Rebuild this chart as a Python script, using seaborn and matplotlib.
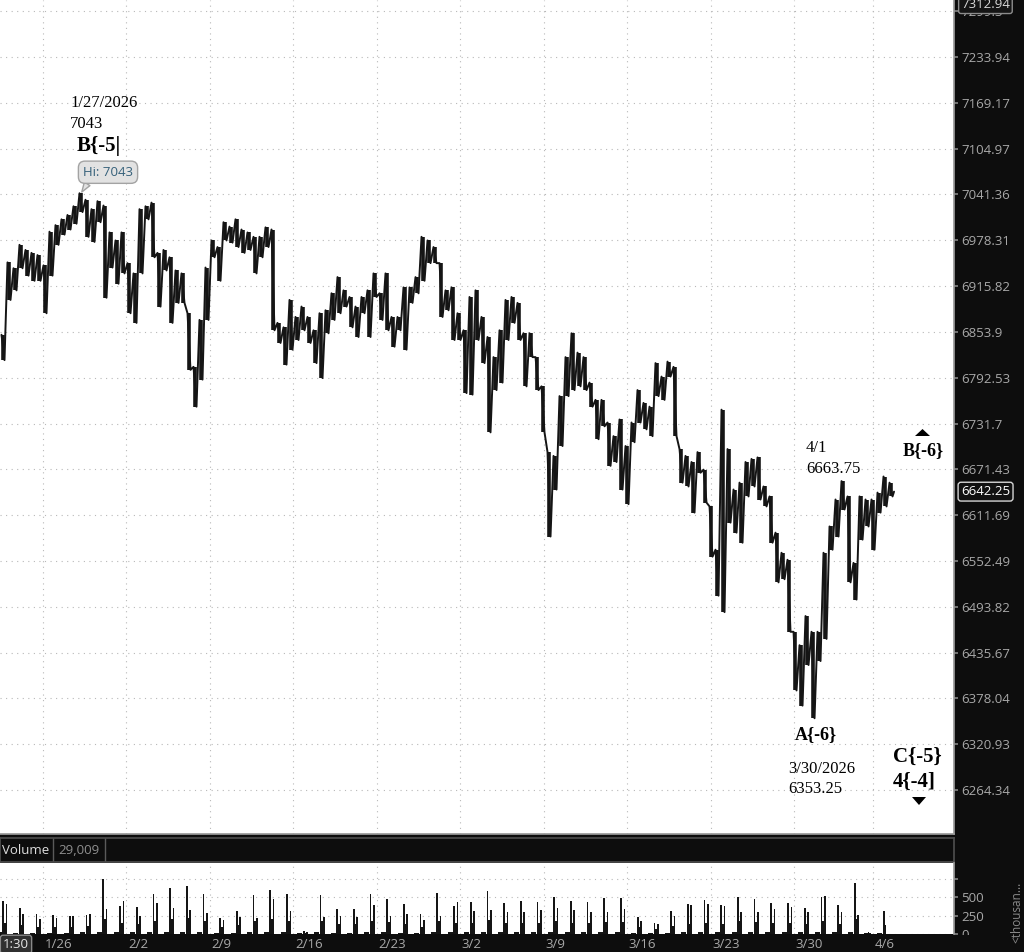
import numpy as np
import matplotlib
matplotlib.use("Agg")
import matplotlib.pyplot as plt
import seaborn as sns
from matplotlib.patches import Polygon
from matplotlib.ticker import FixedLocator, NullLocator, NullFormatter
from matplotlib.transforms import blended_transform_factory

# ---------------- data ----------------
sessions = ["1/21", "1/22", "1/23",
            "1/26", "1/27", "1/28", "1/29", "1/30",
            "2/2", "2/3", "2/4", "2/5", "2/6",
            "2/9", "2/10", "2/11", "2/12", "2/13",
            "2/16", "2/17", "2/18", "2/19", "2/20",
            "2/23", "2/24", "2/25", "2/26", "2/27",
            "3/2", "3/3", "3/4", "3/5", "3/6",
            "3/9", "3/10", "3/11", "3/12", "3/13",
            "3/16", "3/17", "3/18", "3/19", "3/20",
            "3/23", "3/24", "3/25", "3/26", "3/27",
            "3/30", "3/31", "4/1", "4/2", "4/3",
            "4/6"]
session_len = [1.0] * 52 + [0.73, 1.0]   # Good Friday is a short session
week_labels = ["1/26", "2/2", "2/9", "2/16", "2/23", "3/2",
               "3/9", "3/16", "3/23", "3/30", "4/6"]

# high / low of the price line in consecutive time slices
price_high = [6850, 6948, 6940, 6972, 6965, 6961, 6958, 6944, 6990, 6999,
              7007, 7013, 7025, 7043, 7034, 7021, 7032, 7026, 6989, 6978,
              6989, 6947, 6933, 7021, 7025, 7030, 6961, 6965, 6955, 6937,
              6933, 6879, 6807, 6870, 6941, 6978, 6969, 7003, 6997, 7007,
              6993, 6989, 6983, 6983, 6996, 6993, 6866, 6860, 6897, 6874,
              6888, 6874, 6856, 6879, 6883, 6906, 6928, 6910, 6901, 6888,
              6901, 6910, 6933, 6906, 6933, 6874, 6874, 6914, 6914, 6928,
              6983, 6978, 6969, 6947, 6910, 6914, 6879, 6856, 6901, 6910,
              6874, 6847, 6820, 6856, 6897, 6901, 6893, 6852, 6852, 6820,
              6781, 6694, 6689, 6768, 6820, 6852, 6826, 6820, 6786, 6763,
              6763, 6733, 6715, 6737, 6702, 6733, 6776, 6759, 6754, 6812,
              6794, 6814, 6807, 6698, 6689, 6681, 6694, 6671, 6623, 6567,
              6750, 6698, 6645, 6654, 6681, 6685, 6687, 6649, 6636, 6589,
              6563, 6554, 6462, 6445, 6482, 6462, 6462, 6563, 6597, 6632,
              6656, 6636, 6550, 6636, 6632, 6632, 6641, 6662, 6654]
price_low = [6816, 6897, 6910, 6940, 6930, 6923, 6923, 6879, 6930, 6972,
             6986, 6993, 7001, 7017, 6983, 6976, 7003, 6900, 6941, 6919,
             6933, 6879, 6866, 6933, 7007, 6955, 6888, 6937, 6866, 6893,
             6893, 6803, 6754, 6790, 6870, 6955, 6923, 6978, 6975, 6969,
             6961, 6965, 6933, 6955, 6969, 6856, 6839, 6810, 6830, 6843,
             6856, 6839, 6812, 6792, 6852, 6870, 6879, 6888, 6860, 6847,
             6879, 6847, 6901, 6870, 6856, 6834, 6856, 6830, 6893, 6906,
             6923, 6947, 6947, 6874, 6883, 6843, 6843, 6772, 6770, 6843,
             6812, 6720, 6776, 6786, 6843, 6866, 6843, 6781, 6820, 6776,
             6720, 6584, 6645, 6702, 6768, 6776, 6781, 6776, 6754, 6711,
             6728, 6676, 6681, 6645, 6626, 6707, 6733, 6724, 6715, 6768,
             6763, 6794, 6715, 6654, 6649, 6615, 6667, 6628, 6558, 6508,
             6487, 6602, 6589, 6576, 6636, 6649, 6632, 6623, 6576, 6525,
             6529, 6462, 6388, 6369, 6420, 6353.25, 6425, 6453, 6567, 6584,
             6619, 6525, 6503, 6580, 6597, 6567, 6615, 6623, 6636]
last_price = 6642.25
price_t0 = -2.557     # time of first slice (sessions, 0 = 1/26)
price_dt = 0.3593     # slice length (sessions)

price_ticks = [7299.3, 7233.94, 7169.17, 7104.97, 7041.36, 6978.31, 6915.82,
               6853.9, 6792.53, 6731.7, 6671.43, 6611.69, 6552.49, 6493.82,
               6435.67, 6378.04, 6320.93, 6264.34]
price_top = 7312.94

# volume (thousands) per session
vol_night = [25, 20, 20, 20, 20, 25, 30, 25, 25, 30, 30, 30, 25,
             20, 20, 25, 30, 25, 10, 25, 20, 20, 25, 25, 20, 20,
             25, 25, 25, 30, 25, 25, 25, 25, 25, 25, 25, 25, 20,
             15, 20, 25, 25, 25, 25, 25, 25, 25, 25, 30, 25, 30,
             10, 20]
vol_open = [446, 355, 273,
            255, 241, 255, 742, 378,
            364, 537, 619, 651, 537,
            218, 309, 523, 596, 537,
            36, 523, 341, 341, 537,
            469, 410, 264, 560, 378,
            437, 582, 423, 446, 437,
            500, 446, 437, 491, 491,
            228, 150, 309, 410, 455,
            391, 500, 473, 423, 419,
            355, 500, 391, 696, 25,
            309]
vol_mid = [150, 120, 100,
           100, 90, 110, 200, 150,
           130, 180, 200, 220, 180,
           90, 120, 170, 200, 180,
           15, 170, 130, 130, 180,
           160, 140, 100, 180, 150,
           150, 190, 150, 150, 150,
           170, 150, 150, 160, 160,
           90, 70, 110, 140, 150,
           140, 170, 160, 150, 150,
           130, 180, 140, 200, 10,
           120]
vol_close = [400, 264, 209,
             218, 241, 264, 332, 446,
             241, 423, 355, 323, 287,
             196, 228, 218, 469, 309,
             30, 228, 241, 228, 391,
             241, 264, 196, 241, 437,
             309, 319, 300, 300, 330,
             350, 330, 300, 300, 340,
             170, 140, 250, 390, 400,
             380, 300, 300, 340, 370,
             300, 510, 300, 260, 0,
             0]
vol_ticks = [0, 250, 500, 750]
vol_tick_labels = ["0", "250", "500", ""]
vol_last = "29,009"

# ---------------- style / layout ----------------
sns.set_theme(style="white")
plt.rcParams["font.family"] = ["Open Sans", "DejaVu Sans"]

W, H = 1024, 952
BG = "#0d0d0d"
GRID = "#b8b8b8"
LBL = "#a8a8a8"
INK = "#151515"
fig = plt.figure(figsize=(W / 100, H / 100), dpi=100, facecolor=BG)


def fx(px):
    return px / W


def fy(py):
    return 1 - py / H


def rect(x0, y0, x1, y1):
    return [fx(x0), fy(y1), fx(x1) - fx(x0), fy(y0) - fy(y1)]


ax = fig.add_axes(rect(0, 0, 954, 834))
hdr = fig.add_axes(rect(0, 838, 954, 862))
vax = fig.add_axes(rect(0, 863, 954, 934))
bot = fig.add_axes(rect(0, 935, 1024, 952))

starts = np.concatenate([[0.0], np.cumsum(session_len)[:-1]]) - 3
lens = np.array(session_len)
week_pos = [starts[sessions.index(w)] for w in week_labels]
xlim = (price_t0, 54.57)

# ---------------- price panel ----------------
k = np.arange(len(price_high))
t_mid = price_t0 + price_dt * (k + 0.5)
path_t = np.column_stack([price_t0 + price_dt * (k + 0.25),
                          price_t0 + price_dt * (k + 0.75)]).ravel()
path_p = np.column_stack([price_high, price_low]).ravel()
path_t = np.append(path_t, price_t0 + price_dt * len(k))
path_p = np.append(path_p, last_price)

# range of each slice as a short thick bar, joined by the zigzag line
ax.vlines(t_mid, price_low, price_high, color=INK, linewidth=2.6)
sns.lineplot(x=path_t, y=path_p, ax=ax, sort=False, estimator=None,
             color=INK, linewidth=1.4)
ax.set_yscale("log")
ax.set_ylim(6210.5, 7315.3)
ax.set_xlim(*xlim)
ax.yaxis.set_major_locator(FixedLocator(price_ticks))
ax.yaxis.set_minor_locator(NullLocator())
ax.yaxis.set_minor_formatter(NullFormatter())
ax.set_yticklabels([f"{v:g}" for v in price_ticks])
ax.yaxis.tick_right()
ax.tick_params(axis="y", right=True, left=False, length=3, color="#808080",
               labelcolor=LBL, labelsize=9.5, pad=2)
ax.set_xticks(week_pos)
ax.set_xticklabels([])
ax.tick_params(axis="x", length=0)
ax.set_xlabel("")
ax.set_ylabel("")
ax.grid(True, color=GRID, linestyle=(0, (1, 4)), linewidth=0.8)
for s in ["top", "left"]:
    ax.spines[s].set_visible(False)
ax.spines["right"].set_color("#9a9a9a")
ax.spines["bottom"].set_color("#9a9a9a")

# price boxes on the right scale
ax.annotate(f"{last_price:.2f}", xy=(1, last_price),
            xycoords=("axes fraction", "data"), xytext=(7, 0),
            textcoords="offset pixels", ha="left", va="center",
            color="white", fontsize=9.5, annotation_clip=False,
            bbox=dict(boxstyle="round,pad=0.22", fc="#111111", ec="#d5d5d5", lw=1))
ax.annotate(f"{price_top:.2f}", xy=(1, price_top),
            xycoords=("axes fraction", "data"), xytext=(7, -3),
            textcoords="offset pixels", ha="left", va="center",
            color="#d8d8d8", fontsize=9.5, annotation_clip=False,
            bbox=dict(boxstyle="round,pad=0.18", fc="#151515", ec="#8c8c8c", lw=1))

# high bubble
i_hi = int(np.argmax(price_high))
ax.annotate(f"Hi: {max(price_high):g}",
            xy=(t_mid[i_hi], max(price_high)),
            xytext=(27, 21), textcoords="offset pixels",
            ha="center", va="center", fontsize=9.5, color="#35607a",
            bbox=dict(boxstyle="round,pad=0.35,rounding_size=0.5",
                      fc="#e2e2e2", ec="#a3a3a3", lw=1),
            arrowprops=dict(arrowstyle="wedge,tail_width=0.5", fc="#e2e2e2",
                            ec="#a3a3a3", shrinkA=0, shrinkB=1, relpos=(0.15, 0.0)))

# wave labels
serif = "Liberation Serif"
notes = [
    (70, 103, "1/27/2026", 12, "normal"),
    (70, 124, "7043", 12, "normal"),
    (77, 146, "B{-5|", 15, "bold"),
    (806, 448, "4/1", 12, "normal"),
    (806, 469, "6663.75", 12, "normal"),
    (903, 451, "B{-6}", 13, "bold"),
    (795, 735, "A{-6}", 13, "bold"),
    (788, 769, "3/30/2026", 12, "normal"),
    (788, 789, "6353.25", 12, "normal"),
    (893, 757, "C{-5}", 15, "bold"),
    (893, 782, "4{-4]", 15, "bold"),
]
for px, py, txt, size, weight in notes:
    fig.text(fx(px), fy(py), txt, family=serif, fontsize=size,
             fontweight=weight, color="black", ha="left", va="center")

fig.add_artist(Polygon([(fx(915), fy(436)), (fx(930), fy(436)), (fx(922.5), fy(429))],
                       closed=True, transform=fig.transFigure, fc="black", ec="none"))
fig.add_artist(Polygon([(fx(912), fy(797)), (fx(926), fy(797)), (fx(919), fy(805))],
                       closed=True, transform=fig.transFigure, fc="black", ec="none"))

# ---------------- volume header ----------------
hdr.set_facecolor(BG)
hdr.set_xticks([])
hdr.set_yticks([])
for s in hdr.spines.values():
    s.set_color("#4d4d4d")
hdr.set_xlim(0, 954)
hdr.set_ylim(0, 1)
hdr.axvline(53, color="#5a5a5a", lw=1)
hdr.axvline(105, color="#5a5a5a", lw=1)
hdr.text(2, 0.5, "Volume", color="#dedede", fontsize=9.5, ha="left", va="center")
hdr.text(58, 0.5, vol_last, color="#8f8f8f", fontsize=9.5, ha="left", va="center")

# ---------------- volume panel ----------------
vax.bar(starts + 0.40 * lens, vol_night, width=0.3 * lens, color=INK, linewidth=0)
vax.bar(starts + 0.63 * lens, vol_open, width=0.1, color=INK, linewidth=0)
vax.bar(starts + 0.72 * lens, vol_mid, width=0.14, color=INK, linewidth=0)
vax.bar(starts + 0.83 * lens, vol_close, width=0.1, color=INK, linewidth=0)
vax.set_xlim(*xlim)
vax.set_ylim(0, 960)
vax.set_yticks(vol_ticks)
vax.set_yticklabels(vol_tick_labels)
vax.yaxis.tick_right()
vax.tick_params(axis="y", right=True, left=False, length=3, color="#808080",
                labelcolor=LBL, labelsize=9.5, pad=2)
vax.set_xticks(week_pos)
vax.set_xticklabels([])
vax.tick_params(axis="x", length=0)
vax.grid(True, color=GRID, linestyle=(0, (1, 4)), linewidth=0.8)
for s in ["top", "left", "bottom"]:
    vax.spines[s].set_visible(False)
vax.spines["right"].set_color("#9a9a9a")

# ---------------- bottom date strip ----------------
bot.set_facecolor(BG)
bot.set_xticks([])
bot.set_yticks([])
for s in bot.spines.values():
    s.set_visible(False)
tr = blended_transform_factory(ax.transData, bot.transAxes)
for lbl, pos in zip(week_labels, week_pos):
    bot.text(pos + 0.1, 0.45, lbl, transform=tr, color=LBL, fontsize=9.5,
             ha="left", va="center")
bot.text(fx(16), 0.45, "1:30", transform=bot.transAxes, color="#e6e6e6",
         fontsize=9.5, ha="center", va="center",
         bbox=dict(boxstyle="round,pad=0.2", fc="#303030", ec="#8a8a8a", lw=1))

fig.text(fx(1017), fy(912), "<thousan...", rotation=90, color="#8a8a8a",
         fontsize=8.5, ha="center", va="center")

fig.savefig("out.png", dpi=100, facecolor=BG)
